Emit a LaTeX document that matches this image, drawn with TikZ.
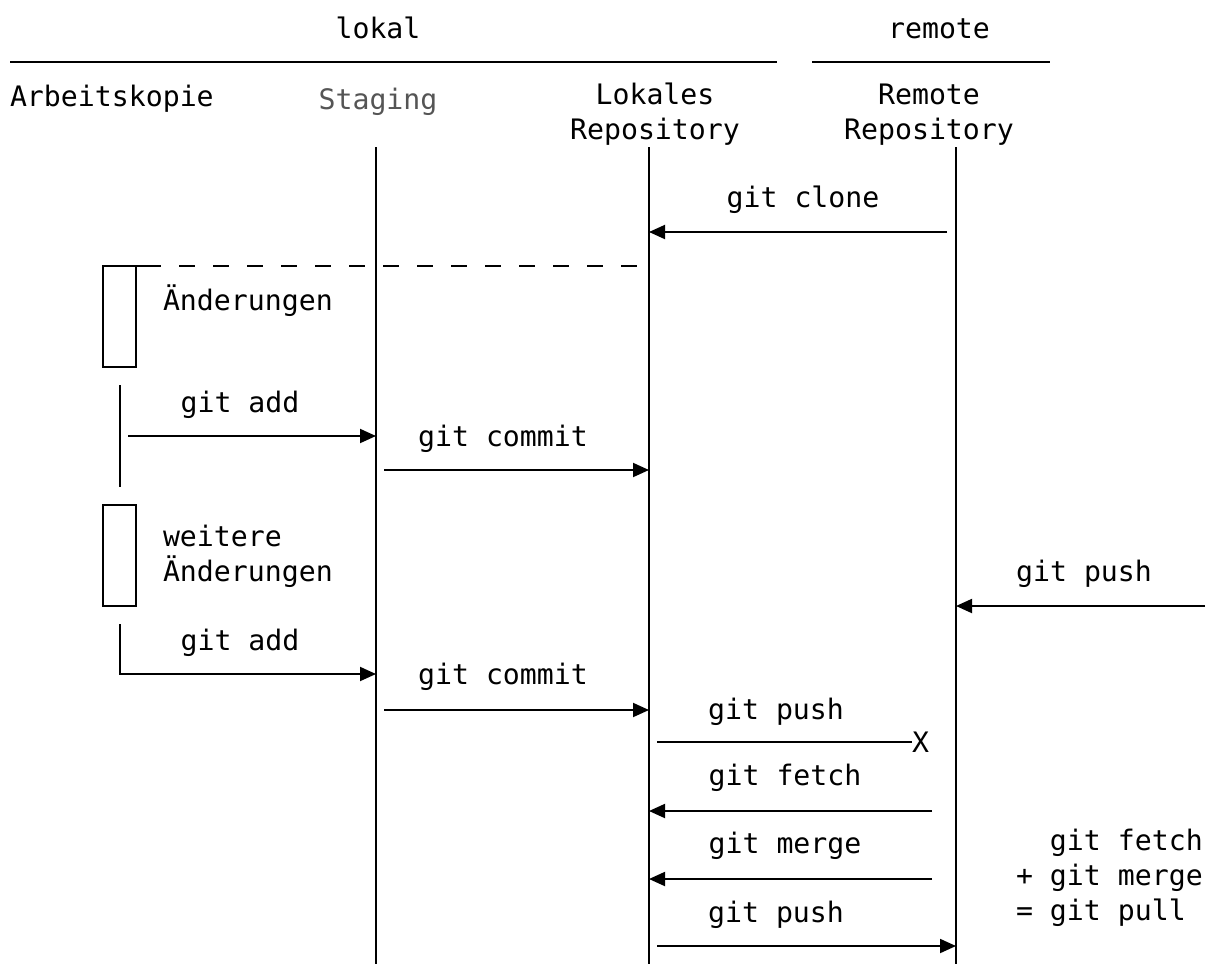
\documentclass[tikz,border=0pt]{standalone}
\usepackage{fontspec}
\setmonofont{DejaVu Sans Mono}
\usetikzlibrary{arrows.meta}
\definecolor{stagegray}{HTML}{555555}
\begin{document}
\begin{tikzpicture}[x=1pt,y=-1pt,
  every node/.style={font=\ttfamily\fontsize{28.2}{35}\selectfont, inner sep=0pt, outer sep=0pt},
  label/.style={anchor=base},
  lifeline/.style={line width=1.6pt},
  msg/.style={line width=1.9pt, -{Triangle[length=16pt,width=14pt]}},
  plain/.style={line width=1.9pt},
  actbox/.style={draw, line width=1.9pt, minimum width=33pt, minimum height=101pt, anchor=north west},
  rule/.style={line width=2pt}]
\useasboundingbox (0,0) rectangle (1210,964);

% group headings
\node[label] (lokal) at (378,38) {lokal};
\node[label] (remote) at (939,38) {remote};
\coordinate (lokalL) at (10,62);
\coordinate (lokalR) at (777,62);
\coordinate (remoteL) at (812,62);
\coordinate (remoteR) at (1050,62);
\draw[rule] (lokalL) -- (lokalR);
\draw[rule] (remoteL) -- (remoteR);

% participants (multi-line nodes are placed by the baseline of their last line)
\node[label, anchor=base west] (work) at (10,106) {Arbeitskopie};
\node[label, text=stagegray] (stage) at (378,109) {Staging};
\node[label, align=center] (local) at (655,139) {Lokales\\Repository};
\node[label, align=center] (remoterepo) at (929,139) {Remote\\Repository};

% lifelines
\coordinate (stageT) at (376,147);  \coordinate (stageB) at (376,964);
\coordinate (localT) at (649,147);  \coordinate (localB) at (649,964);
\coordinate (remT)   at (956,147);  \coordinate (remB)   at (956,964);
\draw[lifeline] (stageT) -- (stageB);
\draw[lifeline] (localT) -- (localB);
\draw[lifeline] (remT) -- (remB);

% git clone
\coordinate (cloneS) at (947,232); \coordinate (cloneE) at (649,232);
\draw[msg] (cloneS) -- (cloneE);
\node[label] (cloneL) at (803,207) {git clone};

% first changes
\node[actbox] (box1) at (103,266) {};
\coordinate (d0) at (145,266); \coordinate (d1) at (640,266);
\draw[plain] (box1.north east) -- (d0);
\draw[plain, dash pattern=on 16pt off 18pt] (d0) -- (d1);
\node[label, anchor=base west] (chg1) at (163,310) {Änderungen};

% first add / commit
\coordinate (act1T) at (120,385); \coordinate (act1B) at (120,487);
\draw[plain] (act1T) -- (act1B);
\coordinate (add1S) at (128,436); \coordinate (add1E) at (376,436);
\draw[msg] (add1S) -- (add1E);
\node[label] (add1L) at (240,412) {git add};
\coordinate (com1S) at (384,470); \coordinate (com1E) at (649,470);
\draw[msg] (com1S) -- (com1E);
\node[label] (com1L) at (503,446) {git commit};

% further changes
\node[actbox] (box2) at (103,505) {};
\node[label, anchor=base west, align=left] (chg2) at (163,581) {weitere\\Änderungen};

% push from someone else
\coordinate (extS) at (1205,606); \coordinate (extE) at (956,606);
\draw[msg] (extS) -- (extE);
\node[label] (extL) at (1084,581) {git push};

% second add / commit
\coordinate (add2T) at (120,624); \coordinate (add2C) at (120,674); \coordinate (add2E) at (376,674);
\draw[msg] (add2T) -- (add2C) -- (add2E);
\node[label] (add2L) at (240,650) {git add};
\coordinate (com2S) at (384,710); \coordinate (com2E) at (649,710);
\draw[msg] (com2S) -- (com2E);
\node[label] (com2L) at (503,684) {git commit};

% rejected push
\node[anchor=west] (reject) at (912,742) {X};
\coordinate (push1S) at (657,742);
\draw[plain] (push1S) -- (reject.west);
\node[label] (push1L) at (776,719) {git push};

% fetch, merge, push
\coordinate (fetchS) at (932,811); \coordinate (fetchE) at (649,811);
\draw[msg] (fetchS) -- (fetchE);
\node[label] (fetchL) at (785,785) {git fetch};
\coordinate (mergeS) at (932,879); \coordinate (mergeE) at (649,879);
\draw[msg] (mergeS) -- (mergeE);
\node[label] (mergeL) at (785,853) {git merge};
\coordinate (push2S) at (657,946); \coordinate (push2E) at (956,946);
\draw[msg] (push2S) -- (push2E);
\node[label] (push2L) at (776,922) {git push};

% pull note
\node[label, anchor=base west, align=left] (pull) at (1016,920) {\ \ git fetch\\+ git merge\\= git pull};
\end{tikzpicture}
\end{document}
